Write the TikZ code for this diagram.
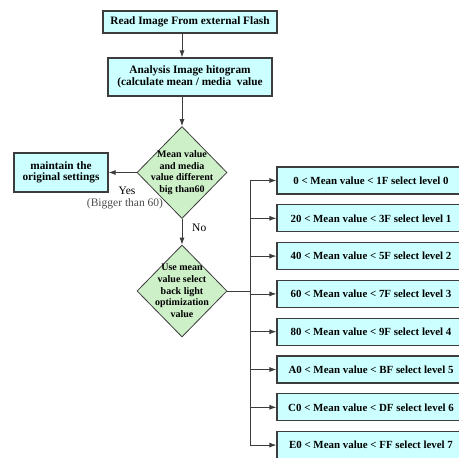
\documentclass[tikz,border=0pt]{standalone}
\usepackage{fontspec}
\setmainfont{Liberation Serif}
\usepackage{tikz}
\usetikzlibrary{shapes.geometric,positioning,calc,arrows.meta}
\definecolor{boxcyan}{RGB}{204,255,255}
\definecolor{decgreen}{RGB}{205,240,200}
\definecolor{linegray}{RGB}{60,60,60}
\tikzset{
	procbox/.style={draw=linegray,line width=1.2pt,fill=boxcyan,font=\bfseries\fontsize{11.3}{11.5}\selectfont,align=center,inner sep=0pt},
	decision/.style={diamond,draw=linegray,line width=0.8pt,fill=decgreen,inner sep=0pt,minimum width=90pt,minimum height=92pt},
	dectext/.style={font=\bfseries\fontsize{10}{11.7}\selectfont,align=center},
	levelbox/.style={procbox,font=\bfseries\fontsize{10.9}{12}\selectfont,minimum width=188pt,minimum height=27pt},
	flow/.style={line width=0.8pt,draw=linegray,-{Latex[length=7pt,width=5pt]}},
	lbl/.style={font=\fontsize{11.5}{12}\selectfont,inner sep=0pt}
}
\begin{document}
\begin{tikzpicture}[x=1pt,y=-1pt]
	\def\busx{250}
	\def\ystep{37.8}
\useasboundingbox (0,0) rectangle (459,458);
\clip (0,0) rectangle (459,458); % la page coupe les niveaux a droite

%Blocs principaux
\node[procbox,minimum width=174pt,minimum height=22pt] (read) at (190,22) {Read Image From external Flash};
\node[procbox,minimum width=164pt,minimum height=38pt] (hist) at (190,77) {Analysis Image hitogram\\(calculate mean / media\ \ value};
\node[decision] (meanchk) at (182,172.5) {};
\node[dectext] (meantxt) at (meanchk) {Mean value\\and media\\value different\\big than60};
\node[procbox,minimum width=94pt,minimum height=39pt] (keep) at (61,172.5) {maintain the\\original settings};
\node[decision] (usemean) at (182,291) {};
\node[dectext] (usetxt) at (usemean) {Use mean\\value select\\back light\\optimization\\value};

%Niveaux
\foreach \lo/\hi/\lv [count=\i from 0] in {0/1F/0,20/3F/1,40/5F/2,60/7F/3,80/9F/4,A0/BF/5,C0/DF/6,E0/FF/7}
	\node[levelbox] (lv\lv) at (371,180.5+\i*\ystep) {\lo\ < Mean value < \hi\ select level \lv};

%Fleches
\draw[flow] (read.south -| meanchk.north) -- (hist.north -| meanchk.north);
\draw[flow] (hist.south -| meanchk.north) -- (meanchk.north);
\draw[flow] (meanchk.west) -- (keep.east);
\node[lbl] (yes) at (127,191) {Yes};
\node[lbl,text=black!70] (bigger) at (125,203.5) {(Bigger than 60)};
\draw[flow] (meanchk.south) -- (usemean.north);
\node[lbl,anchor=west] (no) at (192,228) {No};

%Bus vers les niveaux
\coordinate (bus) at (\busx,291);
\draw[line width=0.8pt,linegray] (usemean.east) -- (bus);
\draw[line width=0.8pt,linegray] (lv0.west -| bus) -- (lv7.west -| bus);
\foreach \lv in {0,...,7}
	\draw[flow] (lv\lv.west -| bus) -- (lv\lv.west);

\end{tikzpicture}
\end{document}
